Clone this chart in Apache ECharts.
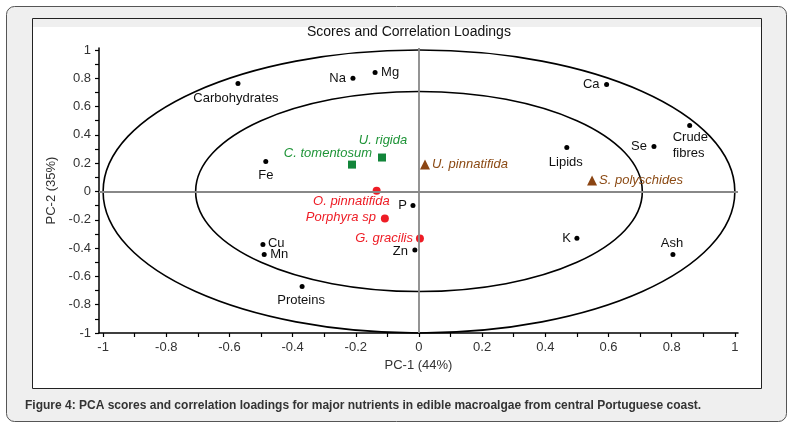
<!DOCTYPE html>
<html>
<head>
<meta charset="utf-8">
<script src="https://cdn.jsdelivr.net/npm/echarts@6/dist/echarts.min.js"></script>
<style>html,body{margin:0;padding:0;background:#fff}#c{width:792px;height:427px}</style>
</head>
<body>
<div id="c"></div>
<script>
// ---- data ----
const xLabelValues = [-1, -0.8, -0.6, -0.4, -0.2, 0, 0.2, 0.4, 0.6, 0.8, 1];
const xTickValues = [-1, -0.9, -0.8, -0.7, -0.6, -0.5, -0.4, -0.3, -0.2, -0.1, 0, 0.1, 0.2, 0.3, 0.4, 0.5, 0.6, 0.7, 0.8, 0.9, 1];
const yLabelValues = [-1, -0.8, -0.6, -0.4, -0.2, 0, 0.2, 0.4, 0.6, 0.8, 1];
const yTickValues = [-1, -0.9, -0.8, -0.7, -0.6, -0.5, -0.4, -0.3, -0.2, -0.1, 0, 0.1, 0.2, 0.3, 0.4, 0.5, 0.6, 0.7, 0.8, 0.9, 1];

const nutrientNames = ['Carbohydrates', 'Na', 'Mg', 'Ca', 'Crude\nfibres', 'Se', 'Lipids', 'Fe', 'P', 'K', 'Zn', 'Ash', 'Cu', 'Mn', 'Proteins'];
const nutrientPC1 = [-0.573, -0.209, -0.139, 0.594, 0.857, 0.744, 0.468, -0.485, -0.019, 0.500, -0.013, 0.804, -0.494, -0.490, -0.370];
const nutrientPC2 = [0.763, 0.800, 0.840, 0.756, 0.467, 0.318, 0.311, 0.212, -0.099, -0.330, -0.413, -0.445, -0.375, -0.445, -0.671];

const redNames = ['O. pinnatifida', 'Porphyra sp', 'G. gracilis'];
const redPC1 = [-0.134, -0.108, 0.003];
const redPC2 = [0.006, -0.191, -0.332];

const greenNames = ['C. tomentosum', 'U. rigida'];
const greenPC1 = [-0.212, -0.117];
const greenPC2 = [0.190, 0.240];

const brownNames = ['U. pinnatifida', 'S. polyschides'];
const brownPC1 = [0.019, 0.548];
const brownPC2 = [0.190, 0.078];

const ellipseRadii = [1, 0.7071];

// ---- label placement (style, not data) ----
const labelPlace = {
  'Carbohydrates': ['center', -2, 15],
  'Na': ['right', -7, 0],
  'Mg': ['left', 6, 0],
  'Ca': ['right', -7, 0],
  'Crude\nfibres': ['left', -17, 20],
  'Se': ['right', -7, 0],
  'Lipids': ['center', -1, 15],
  'Fe': ['center', 0, 14],
  'P': ['right', -6, 0],
  'K': ['right', -6, 0],
  'Zn': ['right', -7, 1],
  'Ash': ['center', -1, -11],
  'Cu': ['left', 5, -1],
  'Mn': ['left', 6, 0],
  'Proteins': ['center', -1, 14],
  'C. tomentosum': ['right', 20, -11],
  'U. rigida': ['center', 1, -17],
  'U. pinnatifida': ['left', 7, 0],
  'S. polyschides': ['left', 7, 0],
  'O. pinnatifida': ['right', 13, 11],
  'Porphyra sp': ['right', -9, -1],
  'G. gracilis': ['right', -7, 0]
};

const FONT = "'Liberation Sans', Arial, sans-serif";

function buildPoints(names, xs, ys, color, italic) {
  return names.map((n, i) => {
    const p = labelPlace[n];
    return {
      name: n,
      value: [xs[i], ys[i]],
      label: {
        show: true,
        position: 'inside',
        align: p[0],
        verticalAlign: 'middle',
        offset: [p[1], p[2]],
        formatter: '{b}',
        color: color,
        fontSize: 13,
        fontFamily: FONT,
        fontStyle: italic ? 'italic' : 'normal',
        lineHeight: 16,
        textBorderWidth: 0,
        opacity: 1
      }
    };
  });
}

const chart = echarts.init(document.getElementById('c'), null, { renderer: 'canvas' });

const option = {
  animation: false,
  backgroundColor: '#ffffff',
  graphic: [
    { type: 'rect', z: -100, silent: true, shape: { x: 6.5, y: 6.5, width: 780, height: 415, r: 8 }, style: { fill: '#efefef', stroke: '#555', lineWidth: 1 } },
    { type: 'rect', z: -99, silent: true, shape: { x: 32.5, y: 18.5, width: 729, height: 370 }, style: { fill: '#ffffff', stroke: '#222', lineWidth: 1 } },
    { type: 'rect', z: -98, silent: true, shape: { x: 33, y: 19, width: 728, height: 8 }, style: { fill: '#efefef' } },
    { type: 'text', z: 10, silent: true, x: 25, y: 406, style: { text: 'Figure 4: PCA scores and correlation loadings for major nutrients in edible macroalgae from central Portuguese coast.', font: 'bold 12px ' + FONT, fill: '#333', verticalAlign: 'middle' } }
  ],
  title: {
    text: 'Scores and Correlation Loadings',
    left: 307, top: 25, padding: 0,
    textStyle: { fontSize: 14, fontWeight: 'normal', color: '#111', fontFamily: FONT }
  },
  grid: { left: 99, right: 54, top: 48, bottom: 94 },
  xAxis: {
    type: 'value', min: -1.013, max: 1.01,
    name: 'PC-1 (44%)', nameLocation: 'middle', nameGap: 25,
    nameTextStyle: { fontSize: 13, color: '#333', fontFamily: FONT },
    axisLine: { show: true, onZero: false, lineStyle: { color: '#000', width: 1.5 } },
    axisTick: { show: true, length: 4, customValues: xTickValues, lineStyle: { color: '#000', width: 1.2 } },
    axisLabel: { customValues: xLabelValues, margin: 8, fontSize: 13, color: '#333', fontFamily: FONT, formatter: v => String(v) },
    splitLine: { show: false }
  },
  yAxis: {
    type: 'value', min: -1, max: 1.014,
    name: 'PC-2 (35%)', nameLocation: 'middle', nameGap: 37,
    nameTextStyle: { fontSize: 13, color: '#333', fontFamily: FONT },
    axisLine: { show: true, onZero: false, lineStyle: { color: '#000', width: 1.5 } },
    axisTick: { show: true, length: 4, customValues: yTickValues, lineStyle: { color: '#000', width: 1.2 } },
    axisLabel: { customValues: yLabelValues, margin: 8, fontSize: 13, color: '#333', fontFamily: FONT, formatter: v => String(v) },
    splitLine: { show: false }
  },
  series: [
    {
      type: 'custom',
      silent: true,
      z: 1,
      data: ellipseRadii.map(r => [0, 0, r]),
      renderItem: function (params, api) {
        const c = api.coord([api.value(0), api.value(1)]);
        const r = api.value(2);
        const s = api.size([r, r]);
        return {
          type: 'ellipse',
          shape: { cx: c[0], cy: c[1], rx: s[0], ry: s[1] },
          style: { fill: 'none', stroke: '#000', lineWidth: 1.6 }
        };
      },
      clip: false
    },
    {
      type: 'scatter',
      name: 'Loadings',
      symbol: 'circle',
      symbolSize: 5,
      itemStyle: { color: '#000', opacity: 1 },
      z: 3,
      data: buildPoints(nutrientNames, nutrientPC1, nutrientPC2, '#111', false),
      markLine: {
        silent: true,
        symbol: ['none', 'none'],
        label: { show: false },
        lineStyle: { color: '#888', width: 1.8, type: 'solid', opacity: 1 },
        data: [{ xAxis: 0 }, { yAxis: 0 }]
      }
    },
    {
      type: 'scatter',
      name: 'Red',
      symbol: 'circle',
      symbolSize: 8,
      itemStyle: { color: '#ee1c25', opacity: 1 },
      z: 4,
      data: buildPoints(redNames, redPC1, redPC2, '#ee1c25', true)
    },
    {
      type: 'scatter',
      name: 'Green',
      symbol: 'rect',
      symbolSize: 8,
      itemStyle: { color: '#12853a', opacity: 1 },
      z: 4,
      data: buildPoints(greenNames, greenPC1, greenPC2, '#1f9438', true)
    },
    {
      type: 'scatter',
      name: 'Brown',
      symbol: 'triangle',
      symbolSize: 10,
      itemStyle: { color: '#8b4513', opacity: 1 },
      z: 4,
      data: buildPoints(brownNames, brownPC1, brownPC2, '#8b4a14', true)
    }
  ]
};

chart.setOption(option);
</script>
</body>
</html>
